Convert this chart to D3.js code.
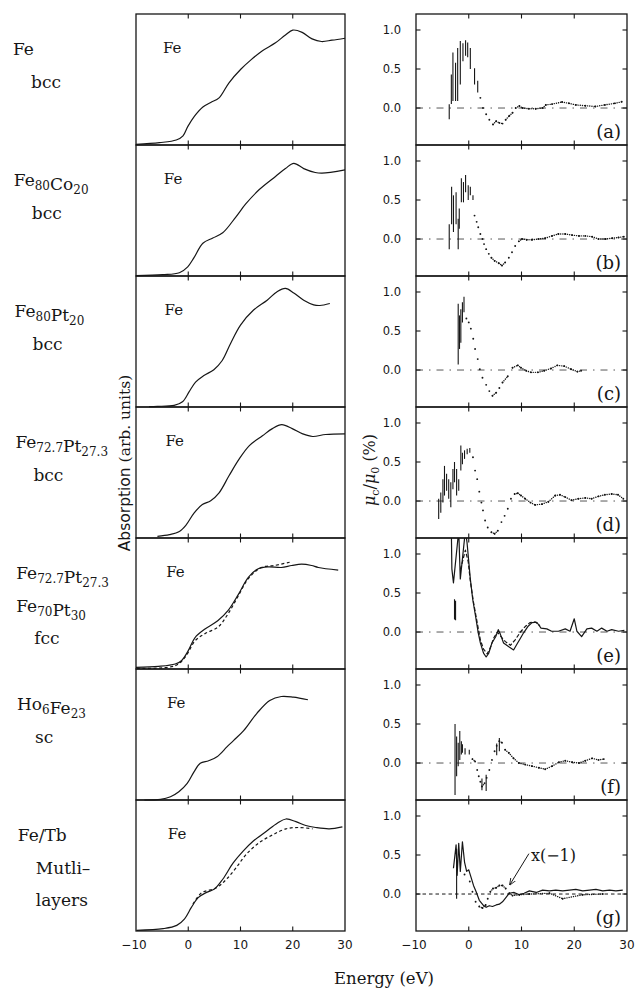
<!DOCTYPE html>
<html>
<head>
<meta charset="utf-8">
<script src="https://cdn.jsdelivr.net/npm/d3@7"></script>
<style>
  body { margin: 0; background: #fff; }
  svg { display: block; }
</style>
</head>
<body>
<svg id="fig" width="637" height="991"></svg>
<script>
// ---- tick values / labels ----
const energyTicks = [0, 10, 20];
const energyLabels = [-10, 0, 10, 20, 30];
const xmcdTicks = [0.0, 0.5, 1.0];
const panelLetters = ["(a)", "(b)", "(c)", "(d)", "(e)", "(f)", "(g)"];

// sample names (lines), _{..} = subscript
const sampleLabels = [
  ["Fe", "bcc"],
  ["Fe_{80}Co_{20}", "bcc"],
  ["Fe_{80}Pt_{20}", "bcc"],
  ["Fe_{72.7}Pt_{27.3}", "bcc"],
  ["Fe_{72.7}Pt_{27.3}", "Fe_{70}Pt_{30}", "fcc"],
  ["Ho_{6}Fe_{23}", "sc"],
  ["Fe/Tb", "Mutli\u2013", "layers"]
];

// ---- absorption curves (energy eV, absorption as fraction of panel height) ----
const absFe = [[-10,0.005],[-5.5,0.018],[-2.3,0.038],[-1.0,0.07],[-0.1,0.14],[1.2,0.22],[2.8,0.29],[4.3,0.325],[5.9,0.36],[7.8,0.475],[10.1,0.58],[12.0,0.65],[14.2,0.72],[16.7,0.78],[18.6,0.84],[20.0,0.877],[21.8,0.86],[23.7,0.81],[25.5,0.79],[27.5,0.80],[30,0.815]];
const absFeCo = [[-10,0.003],[-4.9,0.01],[-1.7,0.025],[-0.1,0.07],[1.1,0.14],[2.8,0.25],[4.7,0.29],[6.6,0.33],[9.1,0.45],[11,0.55],[13.6,0.66],[16.7,0.76],[18.6,0.82],[20.2,0.86],[22.1,0.82],[24.3,0.79],[25.6,0.785],[30,0.81]];
const absFePt = [[-7.5,0.003],[-5.9,0.005],[-2.7,0.013],[-1.1,0.04],[0.15,0.115],[1.4,0.19],[3.0,0.24],[4.9,0.285],[6.5,0.355],[8.1,0.485],[10,0.625],[12.5,0.74],[15.1,0.815],[17,0.88],[18.6,0.905],[20.2,0.87],[22.1,0.815],[24,0.78],[25.2,0.775],[27.1,0.79]];
const absFe727 = [[-5.9,0.013],[-3.6,0.026],[-1.7,0.05],[-0.4,0.1],[1.1,0.19],[2.7,0.255],[4.3,0.285],[5.9,0.345],[7.8,0.475],[9.7,0.60],[11.7,0.705],[14.2,0.78],[16.1,0.835],[17.9,0.865],[19.9,0.835],[21.9,0.795],[23.8,0.775],[26.3,0.79],[30,0.795]];
const absFe727fcc = [[-10,0.012],[-5.7,0.02],[-2.5,0.038],[-1.3,0.063],[0,0.14],[1.3,0.24],[3.2,0.305],[5.7,0.37],[7.6,0.445],[9.6,0.57],[11.5,0.70],[13.4,0.765],[15.3,0.78],[17.8,0.775],[19.8,0.79],[21.7,0.80],[23.6,0.79],[24.9,0.775],[28.7,0.755]];
const absFe70Pt30 = [[-9.8,0.005],[-2.5,0.025],[-0.6,0.09],[1.3,0.215],[3.2,0.27],[5.7,0.32],[7.6,0.42],[9.6,0.56],[11.5,0.69],[14,0.775],[16.5,0.79],[19.4,0.815]];
const absHoFe = [[-8.4,0],[-5.3,0.005],[-3.4,0.025],[-1.8,0.063],[-0.2,0.127],[1.1,0.215],[2.3,0.28],[3.9,0.30],[5.5,0.33],[7.4,0.405],[8.7,0.455],[10.6,0.53],[13.1,0.66],[15.6,0.76],[17.8,0.79],[20.1,0.785],[22.9,0.765]];
const absFeTb = [[-9.9,0.005],[-4.8,0.018],[-2.2,0.043],[-0.7,0.093],[0.6,0.18],[1.9,0.255],[3.5,0.295],[5.0,0.32],[6.6,0.395],[8.6,0.52],[10.5,0.61],[12.4,0.685],[14.9,0.76],[17.1,0.825],[18.7,0.855],[20.6,0.835],[22.5,0.805],[24.4,0.79],[27,0.78],[29.5,0.795]];
const absFeTbDash = [[0.9,0.205],[2.5,0.29],[5.4,0.33],[7.3,0.395],[9.2,0.485],[11.1,0.585],[13.6,0.675],[16.2,0.735],[18.7,0.78],[21.2,0.79],[23.8,0.78]];

// ---- XMCD mu_c/mu_0 (%) ----
// bars: [E, low, high]   dots: [E, value]
const barsA = [[-3.7,-0.145,0.047],[-3.3,0.05,0.43],[-3.0,0.09,0.71],[-2.5,0.09,0.58],[-2.1,0.09,0.77],[-1.6,0.30,0.86],[-1.1,0.60,0.83],[-0.6,0.67,0.87],[-0.2,0.65,0.84],[0.3,0.5,0.77],[1.1,0.3,0.51],[1.7,0.2,0.35]];
const dotsA = [[2.2,0.13],[2.7,0.0],[3.3,-0.08],[3.9,-0.15],[4.6,-0.21],[5.2,-0.17],[5.8,-0.19],[6.4,-0.2],[7.0,-0.15],[7.7,-0.10],[8.3,-0.06],[8.9,0.0],[9.6,0.026],[10.2,0.0],[11.4,-0.01],[12.7,-0.01],[14,0.0],[14.6,0.04],[15.8,0.05],[17.7,0.077],[19,0.06],[20.3,0.04],[22.1,0.03],[24,0.02],[25.8,0.04],[27.7,0.06],[29,0.08]];

const barsB = [[-3.7,-0.13,0.19],[-3.25,0.19,0.67],[-2.9,0.09,0.56],[-2.4,0.19,0.6],[-2.0,-0.13,0.26],[-1.8,0.13,0.39],[-1.4,0.47,0.78],[-1.0,0.47,0.73],[-0.6,0.6,0.82],[-0.1,0.5,0.69],[0.3,0.56,0.67],[0.8,0.5,0.56]];
const dotsB = [[1.1,0.30],[1.5,0.22],[1.8,0.15],[2.2,0.065],[2.6,0],[2.9,-0.065],[3.3,-0.13],[3.8,-0.19],[4.3,-0.24],[4.9,-0.28],[5.7,-0.31],[6.3,-0.34],[6.9,-0.30],[7.6,-0.24],[8.2,-0.17],[8.8,-0.09],[9.5,-0.03],[10.1,0],[11,-0.01],[12,-0.01],[13.2,0],[14.5,0.01],[15.8,0.04],[17,0.065],[18.3,0.065],[19.6,0.05],[20.9,0.04],[22.1,0.04],[23.4,0.03],[24.6,0],[25.9,0],[27.2,0.01],[28.4,0.02],[29.4,0.03]];

const barsC = [[-2.0,0.07,0.85],[-1.75,0.27,0.70],[-1.5,0.35,0.78],[-1.2,0.61,0.87],[-0.9,0.74,0.94]];
const dotsC = [[-0.45,0.66],[0,0.61],[0.4,0.53],[0.85,0.40],[1.2,0.27],[1.7,0.14],[2.1,0.01],[2.6,-0.10],[3.3,-0.19],[3.9,-0.27],[4.5,-0.33],[5.2,-0.29],[5.8,-0.23],[6.4,-0.16],[7.4,-0.08],[8.3,0.03],[9.3,0.06],[9.9,0.03],[10.9,-0.01],[11.8,-0.03],[13.1,-0.03],[14.3,-0.01],[15.6,0.02],[16.8,0.06],[18.1,0.05],[19.4,0.01],[20.6,-0.02],[21.3,-0.01]];

const barsD = [[-5.7,-0.23,0.03],[-5.3,-0.15,0.11],[-4.9,-0.02,0.28],[-4.6,0.07,0.45],[-4.2,0.13,0.35],[-3.8,0.03,0.28],[-3.4,-0.08,0.24],[-3.0,0.15,0.41],[-2.7,0.24,0.50],[-2.3,0.07,0.41],[-1.9,0.13,0.28],[-1.5,0.39,0.71],[-1.2,0.47,0.62],[-0.8,0.54,0.65],[-0.3,0.60,0.67],[0.2,0.62,0.68]];
const dotsD = [[0.8,0.56],[1.2,0.39],[1.6,0.28],[2.0,0.12],[2.4,-0.02],[2.7,-0.12],[3.1,-0.25],[3.6,-0.34],[4.3,-0.40],[4.9,-0.42],[5.5,-0.38],[6.2,-0.27],[6.8,-0.19],[7.4,-0.10],[8.0,0.03],[8.7,0.09],[9.3,0.10],[9.9,0.07],[10.7,0.03],[11.7,-0.02],[12.6,-0.05],[13.9,-0.04],[15.1,-0.01],[16.4,0.07],[17.3,0.08],[18.3,0.05],[19.5,0.01],[20.8,0.03],[22.1,0.04],[23.3,0.03],[24.6,0.06],[25.8,0.08],[27.1,0.09],[28.3,0.08],[29.3,0.03]];

const lineE = [[-3.3,1.3],[-3.2,0.81],[-2.9,0.63],[-1.9,1.3],[-1.6,0.68],[-0.64,1.3],[-0.33,1.15],[0.3,0.68],[0.75,0.42],[1.3,0.2],[1.8,-0.01],[2.2,-0.14],[2.8,-0.27],[3.3,-0.32],[3.8,-0.27],[4.4,-0.14],[5.1,-0.06],[5.6,0.03],[6.0,-0.03],[6.6,-0.14],[7.6,-0.19],[8.5,-0.23],[9.1,-0.16],[9.8,-0.08],[10.4,-0.01],[11.2,0.07],[12.0,0.12],[12.9,0.125],[13.7,0.05],[14.8,0.04],[15.7,0.01],[17.0,0.01],[18.3,0.04],[19.2,0.01],[20.0,0.17],[20.5,0.01],[21.4,-0.06],[22.4,0.04],[23.3,0.05],[24.3,0.01],[25.2,0.05],[26.2,0.01],[27.1,0.03],[28.4,0.01],[29.5,0.02]];
const barsE = [[-2.7,0.16,0.42],[-2.5,0.15,0.40]];
const dashE = [[-1.6,0.8],[-1.2,0.9],[-0.64,1.05],[-0.1,0.9],[0.3,0.65],[0.9,0.38],[1.6,0.12],[2.2,-0.1],[2.8,-0.22],[3.5,-0.28],[4.1,-0.2],[4.7,-0.08],[5.4,0.0],[6.0,-0.05],[6.9,-0.12],[7.9,-0.17],[8.8,-0.1],[9.8,0.0],[10.7,0.07],[11.6,0.12],[12.6,0.13],[13.5,0.08]];

const barsF = [[-2.6,-0.41,0.50],[-2.3,-0.17,0.34],[-2.0,-0.04,0.26],[-1.7,0.04,0.41],[-1.4,0.11,0.28],[-1.2,0.13,0.24],[-0.7,0.11,0.19],[0.1,0.11,0.17],[2.5,-0.35,-0.2],[3.3,-0.36,-0.15],[5.3,0.1,0.25],[5.8,0.15,0.32]];
const dotsF = [[0.7,0.05],[1.2,0.02],[1.6,-0.09],[1.9,-0.17],[2.2,-0.24],[2.5,-0.30],[3.0,-0.26],[3.4,-0.19],[3.9,-0.09],[4.4,0.04],[4.9,0.15],[5.3,0.22],[5.8,0.28],[6.3,0.26],[6.9,0.17],[7.6,0.13],[8.5,0.06],[9.5,0],[10.7,-0.02],[12.0,-0.04],[13.3,-0.06],[14.5,-0.08],[15.8,-0.04],[17.1,0.01],[18.3,0.03],[19.6,0.01],[20.9,0],[22.1,0.03],[23.4,0.06],[24.6,0.04],[25.6,0.05]];

const lineG = [[-2.9,0.33],[-2.4,0.63],[-2.2,0.24],[-1.9,0.65],[-1.6,0.29],[-1.2,0.67],[-0.8,0.41],[-0.4,0.29],[0.0,0.31],[0.5,0.2],[0.9,0.11],[1.4,0.03],[2.0,-0.08],[2.7,-0.14],[3.3,-0.17],[3.9,-0.15],[4.5,-0.16],[5.2,-0.14],[5.8,-0.13],[6.4,-0.1],[7.0,-0.05],[7.7,0.01],[8.6,0.02],[9.6,-0.01],[10.5,0.01],[11.5,0.04],[12.8,0.02],[14.0,0.05],[15.3,0.04],[16.5,0.05],[17.8,0.04],[19.1,0.05],[20.3,0.06],[21.6,0.04],[22.9,0.05],[24.1,0.06],[25.4,0.04],[26.7,0.05],[27.9,0.04],[29.2,0.05]];
const barsG = [[-2.3,-0.06,0.58]];
const dotsG = [[-0.8,0.25],[0.2,0.16],[0.7,0.03],[1.3,-0.1],[2.0,-0.16],[2.6,-0.18],[3.2,-0.14],[3.6,-0.06],[4.1,0.03],[4.6,0.07],[5.2,0.08],[5.8,0.11],[6.4,0.11],[7.0,0.07],[7.7,0.01],[8.3,-0.02],[9.6,-0.01],[11.5,0.0],[15.3,0.01],[17.8,-0.06],[21.6,-0.01],[25.4,0.0]];

// per-panel tables built from the arrays above
const absPanels = [
  [{d: absFe}],
  [{d: absFeCo}],
  [{d: absFePt}],
  [{d: absFe727}],
  [{d: absFe727fcc}, {d: absFe70Pt30, dash: "3 2.5"}],
  [{d: absHoFe}],
  [{d: absFeTb}, {d: absFeTbDash, dash: "3 2.5"}]
];
const xmcdPanels = [
  {bars: barsA, dots: dotsA},
  {bars: barsB, dots: dotsB},
  {bars: barsC, dots: dotsC},
  {bars: barsD, dots: dotsD},
  {bars: barsE, lines: [{d: lineE}, {d: dashE, dash: "4 2"}]},
  {bars: barsF, dots: dotsF},
  {bars: barsG, lines: [{d: lineG}], dots: dotsG}
];

// ---- layout ----
const ink = "#161616";
const serif = "'DejaVu Serif', serif";
const sans = "'DejaVu Sans', sans-serif";
const top0 = 14, panelH = 131;
const xL = d3.scaleLinear().domain([-10, 30]).range([136, 345]);
const xR = d3.scaleLinear().domain([-10, 30]).range([416, 627]);

const svg = d3.select("#fig");

// write text with _{sub} parts as tspans
function richText(sel, str, size, subSize) {
  let parts = str.split(/_\{([^}]*)\}/);
  parts.forEach(function (p, k) {
    if (p === "") return;
    if (k % 2 === 0) {
      sel.append("tspan").attr("font-size", size).text(p);
    } else {
      sel.append("tspan").attr("font-size", subSize).attr("dy", 4).text(p);
      sel.append("tspan").attr("font-size", size).attr("dy", -4).text("");
    }
  });
}

function ticksOnEdge(g, x, y, dir) {
  energyTicks.forEach(function (t) {
    g.append("line")
      .attr("x1", x(t)).attr("x2", x(t))
      .attr("y1", y).attr("y2", y + dir * 4.5)
      .attr("stroke", ink).attr("stroke-width", 1.1);
  });
}

for (let i = 0; i < 7; i++) {
  let yTop = top0 + i * panelH;
  let yBot = yTop + panelH;

  // ---------- left: absorption ----------
  let yL = d3.scaleLinear().domain([0, 1]).range([yBot, yTop]);
  let gl = svg.append("g");

  let line = d3.line()
    .x(function (d) { return xL(d[0]); })
    .y(function (d) { return yL(d[1]); })
    .curve(d3.curveCatmullRom);

  absPanels[i].forEach(function (s) {
    gl.append("path")
      .attr("d", line(s.d))
      .attr("fill", "none")
      .attr("stroke", ink)
      .attr("stroke-width", 1.2)
      .attr("stroke-dasharray", s.dash || null);
  });

  gl.append("rect")
    .attr("x", xL(-10)).attr("y", yTop)
    .attr("width", xL(30) - xL(-10)).attr("height", panelH)
    .attr("fill", "none").attr("stroke", ink).attr("stroke-width", 1.3);
  ticksOnEdge(gl, xL, yTop, 1);
  ticksOnEdge(gl, xL, yBot, -1);

  gl.append("text")
    .attr("x", 163 + i * 0.8).attr("y", yTop + 39)
    .attr("font-family", serif).attr("font-size", 15)
    .attr("fill", ink).text("Fe");

  // sample names on the far left
  sampleLabels[i].forEach(function (s, k) {
    let indent = (k > 0 && s.indexOf("_{") < 0) ? 18 : 0;
    let t = gl.append("text")
      .attr("x", 13 + i * 0.8 + indent)
      .attr("y", yTop + 41 + k * 32.5)
      .attr("font-family", serif).attr("fill", ink);
    richText(t, s, 17, 12);
  });

  // ---------- right: XMCD ----------
  let yR = d3.scaleLinear().domain([-0.474, 1.205]).range([yBot, yTop]);
  let gr = svg.append("g");
  let clipId = "clip" + i;
  svg.append("clipPath").attr("id", clipId)
    .append("rect")
    .attr("x", xR(-10)).attr("y", yTop)
    .attr("width", xR(30) - xR(-10)).attr("height", panelH);

  // zero line
  gr.append("line")
    .attr("x1", xR(-10)).attr("x2", xR(30))
    .attr("y1", yR(0)).attr("y2", yR(0))
    .attr("stroke", i === 6 ? ink : "#444")
    .attr("stroke-width", i === 6 ? 1 : 0.9)
    .attr("stroke-dasharray", i === 6 ? "3.5 3" : "7 6 1.5 6");

  let data = gr.append("g").attr("clip-path", "url(#" + clipId + ")");
  let p = xmcdPanels[i];
  let lineR = d3.line()
    .x(function (d) { return xR(d[0]); })
    .y(function (d) { return yR(d[1]); });

  (p.bars || []).forEach(function (b) {
    data.append("line")
      .attr("x1", xR(b[0])).attr("x2", xR(b[0]))
      .attr("y1", yR(b[1])).attr("y2", yR(b[2]))
      .attr("stroke", ink).attr("stroke-width", 1.1);
  });
  (p.lines || []).forEach(function (s) {
    data.append("path")
      .attr("d", lineR(s.d))
      .attr("fill", "none").attr("stroke", ink)
      .attr("stroke-width", 1.2)
      .attr("stroke-linejoin", "round")
      .attr("stroke-dasharray", s.dash || null);
  });
  if (p.dots) {
    // a dot at every measured point
    data.selectAll("circle.pt")
      .data(p.dots)
      .join("circle")
      .attr("class", "pt")
      .attr("cx", function (d) { return xR(d[0]); })
      .attr("cy", function (d) { return yR(d[1]); })
      .attr("r", 0.95)
      .attr("fill", ink);
    // where the signal is flat the points are dense: fill in as a dotted trace
    for (let k = 1; k < p.dots.length; k++) {
      let a = p.dots[k - 1], b = p.dots[k];
      let dx = xR(b[0]) - xR(a[0]);
      let dy = Math.abs(yR(b[1]) - yR(a[1]));
      if (dy < dx * 1.2) {
        data.append("line")
          .attr("x1", xR(a[0])).attr("y1", yR(a[1]))
          .attr("x2", xR(b[0])).attr("y2", yR(b[1]))
          .attr("stroke", ink).attr("stroke-width", 1.4)
          .attr("stroke-linecap", "round")
          .attr("stroke-dasharray", "0.1 2.1");
      }
    }
  }

  gr.append("rect")
    .attr("x", xR(-10)).attr("y", yTop)
    .attr("width", xR(30) - xR(-10)).attr("height", panelH)
    .attr("fill", "none").attr("stroke", ink).attr("stroke-width", 1.3);
  ticksOnEdge(gr, xR, yTop, 1);
  ticksOnEdge(gr, xR, yBot, -1);

  xmcdTicks.forEach(function (v) {
    gr.append("line")
      .attr("x1", xR(-10)).attr("x2", xR(-10) + 4.5)
      .attr("y1", yR(v)).attr("y2", yR(v))
      .attr("stroke", ink).attr("stroke-width", 1.1);
    gr.append("line")
      .attr("x1", xR(30)).attr("x2", xR(30) - 4.5)
      .attr("y1", yR(v)).attr("y2", yR(v))
      .attr("stroke", ink).attr("stroke-width", 1.1);
    gr.append("text")
      .attr("x", 401).attr("y", yR(v) + 4)
      .attr("text-anchor", "end")
      .attr("font-family", sans).attr("font-size", 11.5)
      .attr("fill", ink).text(v.toFixed(1));
  });

  gr.append("text")
    .attr("x", xR(30) - 6).attr("y", yBot - 7)
    .attr("text-anchor", "end")
    .attr("font-family", serif).attr("font-size", 18)
    .attr("fill", ink).text(panelLetters[i]);

  if (i === 6) {
    // x(-1) annotation with arrow
    let tipX = xR(7.8), tipY = yR(0.12);
    let tailX = tipX + 19, tailY = tipY - 31;
    svg.append("defs").append("marker")
      .attr("id", "arrow").attr("viewBox", "0 0 10 10")
      .attr("refX", 9).attr("refY", 5)
      .attr("markerWidth", 7).attr("markerHeight", 7)
      .attr("orient", "auto")
      .append("path").attr("d", "M0,1 L10,5 L0,9")
      .attr("fill", "none").attr("stroke", ink).attr("stroke-width", 1.3);
    gr.append("line")
      .attr("x1", tailX).attr("y1", tailY)
      .attr("x2", tipX).attr("y2", tipY)
      .attr("stroke", ink).attr("stroke-width", 1)
      .attr("marker-end", "url(#arrow)");
    gr.append("text")
      .attr("x", tailX + 2).attr("y", tailY + 7)
      .attr("font-family", serif).attr("font-size", 16)
      .attr("fill", ink).text("x(\u22121)");
  }
}

// bottom tick labels
const yBottom = top0 + 7 * panelH;
[xL, xR].forEach(function (x) {
  energyLabels.forEach(function (t) {
    svg.append("text")
      .attr("x", x(t) + (t < 0 ? -2 : 0)).attr("y", yBottom + 18)
      .attr("text-anchor", "middle")
      .attr("font-family", sans).attr("font-size", 12)
      .attr("fill", ink).text(t < 0 ? "\u2212" + Math.abs(t) : t);
  });
});

// axis titles
svg.append("text")
  .attr("transform", "translate(130,463) rotate(-90)")
  .attr("text-anchor", "middle")
  .attr("font-size", 15.5).attr("fill", ink)
  .call(function (t) {
    t.append("tspan").attr("font-family", sans).text("Absorption ");
    t.append("tspan").attr("font-family", serif).text("(arb. units)");
  });

svg.append("text")
  .attr("transform", "translate(375,470) rotate(-90)")
  .attr("text-anchor", "middle")
  .attr("font-family", serif).attr("font-size", 16).attr("fill", ink)
  .call(function (t) {
    t.append("tspan").attr("font-style", "italic").text("\u03bc");
    t.append("tspan").attr("font-size", 11).attr("dy", 4).text("c");
    t.append("tspan").attr("dy", -4).text("/");
    t.append("tspan").attr("font-style", "italic").text("\u03bc");
    t.append("tspan").attr("font-size", 11).attr("dy", 4).text("0");
    t.append("tspan").attr("dy", -4).text(" (%)");
  });

svg.append("text")
  .attr("x", 384).attr("y", 984)
  .attr("text-anchor", "middle")
  .attr("font-family", serif).attr("font-size", 16.5)
  .attr("fill", ink).text("Energy (eV)");
</script>
</body>
</html>
